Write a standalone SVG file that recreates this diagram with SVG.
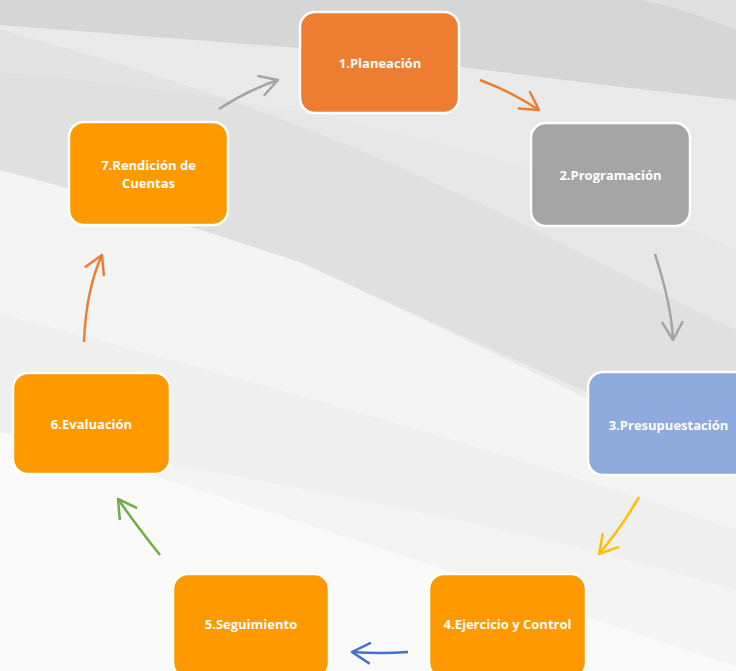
<svg xmlns="http://www.w3.org/2000/svg" width="736" height="671" viewBox="0 0 736 671">
  <defs>
    <style>
      .node rect { stroke: #ffffff; stroke-width: 2.5; }
      .node text { font-family: "Open Sans", "Liberation Sans", sans-serif; font-weight: 700; font-size: 13px; fill: #ffffff; text-anchor: middle; }
      .conn path { fill: none; stroke-width: 2.5; stroke-linecap: butt; }
      .c-gray { stroke: #a5a5a5; }
      .c-orange { stroke: #ed7d31; }
      .c-yellow { stroke: #ffc000; }
      .c-blue { stroke: #4472c4; }
      .c-green { stroke: #70ad47; }
    </style>
    <marker id="ah-gray" viewBox="-22 -13 26 26" refX="0" refY="0" markerWidth="26" markerHeight="26" markerUnits="userSpaceOnUse" orient="auto" overflow="visible">
      <path d="M-17.5,-10 L0,0 L-17.5,10" fill="none" stroke="#a5a5a5" stroke-width="2.5" stroke-linejoin="round" stroke-linecap="round"/>
    </marker>
    <marker id="ah-orange" viewBox="-22 -13 26 26" refX="0" refY="0" markerWidth="26" markerHeight="26" markerUnits="userSpaceOnUse" orient="auto" overflow="visible">
      <path d="M-17.5,-10 L0,0 L-17.5,10" fill="none" stroke="#ed7d31" stroke-width="2.5" stroke-linejoin="round" stroke-linecap="round"/>
    </marker>
    <marker id="ah-yellow" viewBox="-22 -13 26 26" refX="0" refY="0" markerWidth="26" markerHeight="26" markerUnits="userSpaceOnUse" orient="auto" overflow="visible">
      <path d="M-17.5,-10 L0,0 L-17.5,10" fill="none" stroke="#ffc000" stroke-width="2.5" stroke-linejoin="round" stroke-linecap="round"/>
    </marker>
    <marker id="ah-blue" viewBox="-22 -13 26 26" refX="0" refY="0" markerWidth="26" markerHeight="26" markerUnits="userSpaceOnUse" orient="auto" overflow="visible">
      <path d="M-17.5,-10 L0,0 L-17.5,10" fill="none" stroke="#4472c4" stroke-width="2.5" stroke-linejoin="round" stroke-linecap="round"/>
    </marker>
    <marker id="ah-green" viewBox="-22 -13 26 26" refX="0" refY="0" markerWidth="26" markerHeight="26" markerUnits="userSpaceOnUse" orient="auto" overflow="visible">
      <path d="M-17.5,-10 L0,0 L-17.5,10" fill="none" stroke="#70ad47" stroke-width="2.5" stroke-linejoin="round" stroke-linecap="round"/>
    </marker>
  </defs>

  <g id="background">
    <rect x="0" y="0" width="736" height="671" fill="#fafafa"/>
    <path d="M0,0 H736 V666 C500,590 250,500 0,432 Z" fill="#f4f4f4"/>
    <path d="M0,314 C250,380 500,450 736,530 V590 C500,520 250,480 0,432 Z" fill="#efefef"/>
    <path d="M0,0 H736 V470 C650,430 470,340 300,262 C200,230 100,195 0,170 Z" fill="#eaeaea"/>
    <path d="M0,30 C150,70 300,120 450,190 C550,235 650,290 736,330 V460 C650,420 460,335 300,262 C200,230 100,195 0,170 Z" fill="#e0e0e0"/>
    <path d="M0,30 C150,70 300,120 450,190 C550,235 650,290 736,330 V250 C600,190 420,110 0,72 Z" fill="#e4e4e4" opacity="0.6"/>
    <path d="M0,0 H736 V100 C600,85 450,65 300,48 L0,25 Z" fill="#d6d6d6"/>
    <path d="M640,0 H736 V30 C705,18 675,6 640,0 Z" fill="#e0e0e0"/>
  </g>

  <g id="connectors" class="conn">
    <path class="c-gray" d="M219,109 Q248,90 278,80" marker-end="url(#ah-gray)"/>
    <path class="c-orange" d="M480,80 Q512,92 539,110" marker-end="url(#ah-orange)"/>
    <path class="c-gray" d="M655,254 C665,285 672,312 673,340" marker-end="url(#ah-gray)"/>
    <path class="c-yellow" d="M639,497 Q621,528 599,554" marker-end="url(#ah-yellow)"/>
    <path class="c-blue" d="M408,652 Q382,654 352,652" marker-end="url(#ah-blue)"/>
    <path class="c-green" d="M160,555 Q136,525 118,499" marker-end="url(#ah-green)"/>
    <path class="c-orange" d="M84,342 Q86,290 102,255" marker-end="url(#ah-orange)"/>
  </g>

  <g id="node1" class="node">
    <rect x="300" y="12" width="159" height="101" rx="15" fill="#ed7d31"/>
    <text x="380" y="68">1.Planeación</text>
  </g>
  <g id="node2" class="node">
    <rect x="531" y="123" width="159" height="103" rx="15" fill="#a5a5a5"/>
    <text x="610.5" y="180">2.Programación</text>
  </g>
  <g id="node3" class="node">
    <rect x="588" y="372" width="160" height="103" rx="15" fill="#8faadc"/>
    <text x="668.5" y="429.5">3.Presupuestación</text>
  </g>
  <g id="node4" class="node">
    <rect x="429" y="574" width="157" height="104" rx="15" fill="#ff9900"/>
    <text x="507.5" y="628.5">4.Ejercicio y Control</text>
  </g>
  <g id="node5" class="node">
    <rect x="173" y="574" width="156" height="104" rx="15" fill="#ff9900"/>
    <text x="251" y="628.5">5.Seguimiento</text>
  </g>
  <g id="node6" class="node">
    <rect x="13" y="373" width="157" height="101" rx="15" fill="#ff9900"/>
    <text x="91.5" y="428.5">6.Evaluación</text>
  </g>
  <g id="node7" class="node">
    <rect x="69" y="122" width="159" height="103" rx="15" fill="#ff9900"/>
    <text x="148.5" y="169.5">7.Rendición de</text>
    <text x="148.5" y="188">Cuentas</text>
  </g>
</svg>
